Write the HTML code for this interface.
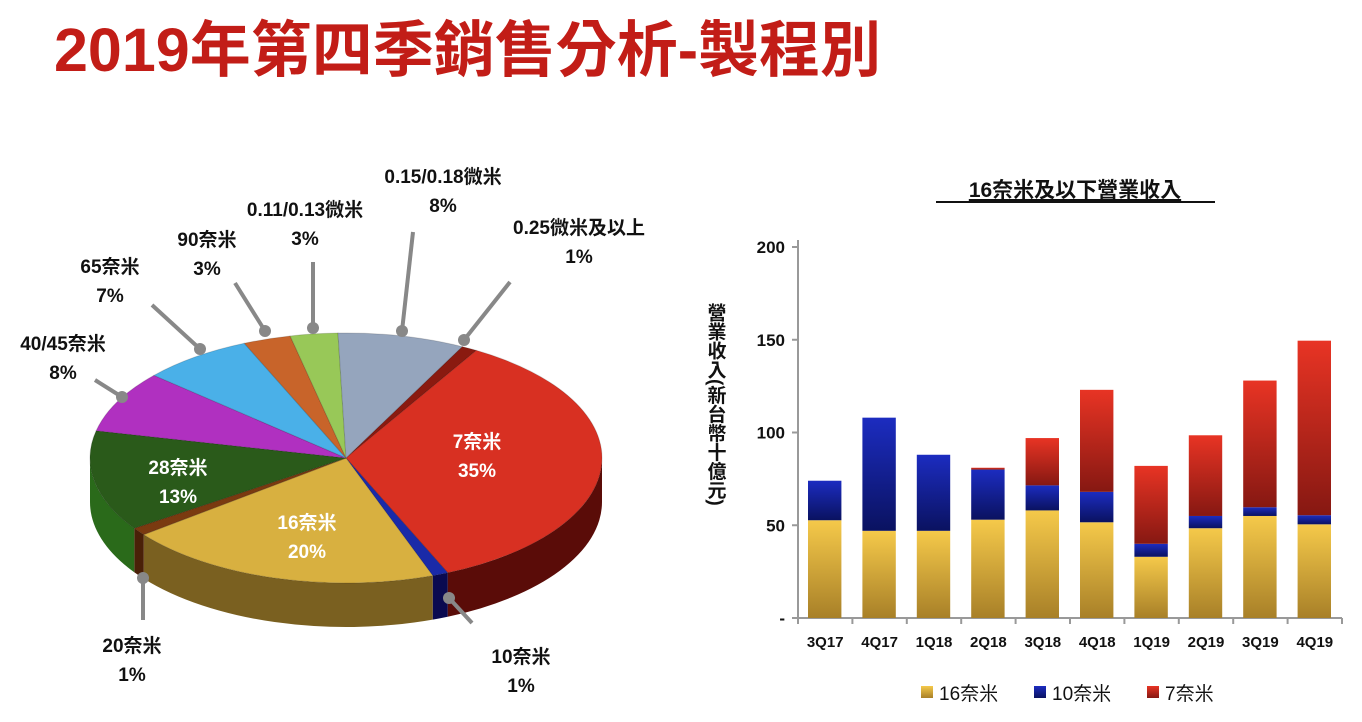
<!DOCTYPE html>
<html><head><meta charset="utf-8"><style>
body{margin:0;width:1362px;height:722px;background:#fff;overflow:hidden;font-family:"Liberation Sans","Noto Sans CJK TC",sans-serif;}
.t{position:absolute;font-weight:bold;white-space:nowrap;}
</style></head><body>
<div class="t" style="left:54px;top:0px;font-size:61px;color:#c21d17;letter-spacing:0px;">2019年第四季銷售分析-製程別</div>
<svg id="pie" width="1362" height="722" style="position:absolute;left:0;top:0"></svg>
<svg id="bar" width="1362" height="722" style="position:absolute;left:0;top:0"></svg>
<script>
const NS="http://www.w3.org/2000/svg";
function mk(p,t,a){const e=document.createElementNS(NS,t);for(const k in a)e.setAttribute(k,a[k]);p.appendChild(e);return e;}
// ---- PIE ----
const pieLabels=["0.25微米及以上","7奈米","10奈米","16奈米","20奈米","28奈米","40/45奈米","65奈米","90奈米","0.11/0.13微米","0.15/0.18微米"];
const pieValues=[1,35,1,20,1,13,8,7,3,3,8];
const pieColors=["#8a1a10","#d83022","#1a2aa8","#d8b040","#7a3a10","#2a5a1a","#b030c0","#4ab0e8","#c8642a","#98c858","#95a5bd"];
const pieSide=["#5a0e08","#5a0c08","#0a0a50","#7a6020","#4a2008","#2a6a1a","#6a1a70","#2a70a0","#7a3a10","#5a8030","#606878"];
const pie=document.getElementById('pie');
const cx=346,cy=458,rx=256,ry=125,dep=44;
function P(a,d){return [cx+rx*Math.cos(a),cy+ry*Math.sin(a)+(d||0)];}
const total=pieValues.reduce((a,b)=>a+b,0);
let ang=-63*Math.PI/180;const sl=[];
pieValues.forEach((v,i)=>{const a2=ang+v/total*2*Math.PI;sl.push([ang,a2]);ang=a2;});
// sides
sl.forEach(([a1,a2],i)=>{
  for(const off of [0,2*Math.PI]){
    let s=Math.max(a1-off,0),e=Math.min(a2-off,Math.PI);
    if(e<=s)continue;
    const p1=P(s),p2=P(e),p3=P(e,dep),p4=P(s,dep);
    const d=`M${p1} A${rx} ${ry} 0 0 1 ${p2} L${p3} A${rx} ${ry} 0 0 0 ${p4}Z`;
    const el=mk(pie,'path',{d:d,fill:pieSide[i]});
    
    
  }
});
sl.forEach(([a1,a2],i)=>{
  const p1=P(a1),p2=P(a2);const large=(a2-a1)>Math.PI?1:0;
  const el=mk(pie,'path',{d:`M${cx} ${cy} L${p1} A${rx} ${ry} 0 ${large} 1 ${p2}Z`,fill:pieColors[i],stroke:'rgba(0,0,0,0.15)','stroke-width':1});
  
  
});
const leaders=[[464,340,510,282],[402,331,413,232],[313,328,313,262],[265,331,235,283],[200,349,152,305],[122,397,95,380],[143,578,143,620],[449,598,472,623]];
leaders.forEach(l=>{
  const ln=mk(pie,'line',{x1:l[0],y1:l[1],x2:l[2],y2:l[3],stroke:'#888','stroke-width':4});
  
  const c=mk(pie,'circle',{cx:l[0],cy:l[1],r:6,fill:'#888'});
  
});
const outLabels=[[443,183,"0.15/0.18微米","8%"],[579,234,"0.25微米及以上","1%"],[305,216,"0.11/0.13微米","3%"],[207,246,"90奈米","3%"],[110,273,"65奈米","7%"],[63,350,"40/45奈米","8%"],[132,652,"20奈米","1%"],[521,663,"10奈米","1%"],
 [477,448,"7奈米","35%","#fff"],[178,474,"28奈米","13%","#fff"],[307,529,"16奈米","20%","#fff"]];
outLabels.forEach(o=>{
  [o[2],o[3]].forEach((s,j)=>{
    const t=mk(pie,'text',{x:o[0],y:o[1]+j*29,'text-anchor':'middle','font-size':19,'font-weight':'bold',fill:o[4]||'#111'});
    t.textContent=s;
  });
});
// ---- BAR ----
const categories=["3Q17","4Q17","1Q18","2Q18","3Q18","4Q18","1Q19","2Q19","3Q19","4Q19"];
const s16=[52.7,47,47,53,58,51.6,33,48.4,55,50.5];
const s10=[21.3,61,41,27,13.5,16.4,7,6.6,4.7,4.9];
const s7=[0,0,0,1,25.5,55,42,43.5,68.3,94.1];
const yTicks=[0,50,100,150,200];
const yTickLabels=["-","50","100","150","200"];
const bar=document.getElementById('bar');
const defs=mk(bar,'defs',{});
[["gY","#f5c94a","#a88028"],["gB","#1c2cc0","#0a1260"],["gR","#e83424","#861812"]].forEach(g=>{
  const lg=mk(defs,'linearGradient',{id:g[0],x1:0,y1:0,x2:0,y2:1});
  mk(lg,'stop',{offset:0,'stop-color':g[1]});mk(lg,'stop',{offset:1,'stop-color':g[2]});
});
const x0=798,bw=54.4,yb=618,ppu=1.855;
const Y=v=>yb-v*ppu, X=i=>x0+bw*i;
mk(bar,'line',{x1:x0,y1:240,x2:x0,y2:yb,stroke:'#999','stroke-width':2});
mk(bar,'line',{x1:x0,y1:yb,x2:x0+bw*10,y2:yb,stroke:'#999','stroke-width':2});
yTicks.forEach((v,i)=>{
  mk(bar,'line',{x1:x0-6,y1:Y(v),x2:x0,y2:Y(v),stroke:'#999','stroke-width':2});
  const t=mk(bar,'text',{x:785,y:Y(v)+6,'text-anchor':'end','font-size':17,'font-weight':'bold',fill:'#111'});
  t.textContent=yTickLabels[i];
});
categories.forEach((c,i)=>{
  mk(bar,'line',{x1:X(i),y1:yb,x2:X(i),y2:yb+6,stroke:'#999','stroke-width':2});
  const t=mk(bar,'text',{x:X(i)+bw/2,y:647,'text-anchor':'middle','font-size':15,'font-weight':'bold',fill:'#111'});
  t.textContent=c;
  let base=0;
  [[s16,'gY','bar-16nm'],[s10,'gB','bar-10nm'],[s7,'gR','bar-7nm']].forEach(s=>{
    const v=s[0][i];if(v<=0)return;
    const r=mk(bar,'rect',{x:X(i)+10,y:Y(base+v),width:bw-21,height:v*ppu,fill:'url(#'+s[1]+')'});
    
    base+=v;
  });
});
mk(bar,'line',{x1:X(10),y1:yb,x2:X(10),y2:yb+6,stroke:'#999','stroke-width':2});
const tt=mk(bar,'text',{x:1075,y:197,'text-anchor':'middle','font-size':21,'font-weight':'bold',fill:'#111','text-decoration':'underline'});
tt.textContent="16奈米及以下營業收入";
mk(bar,'line',{x1:936,y1:202,x2:1215,y2:202,stroke:'#111','stroke-width':2});
const yt=mk(bar,'text',{x:715,y:303,'font-size':19,'font-weight':'bold',fill:'#111','writing-mode':'tb',style:'writing-mode:vertical-rl;'});
yt.textContent="營業收入(新台幣十億元)";
[["16奈米","gY",921],["10奈米","gB",1034],["7奈米","gR",1147]].forEach(l=>{
  const r=mk(bar,'rect',{x:l[2],y:686,width:12,height:12,fill:'url(#'+l[1]+')'});
  
  const t=mk(bar,'text',{x:l[2]+18,y:700,'font-size':19,fill:'#111'});
  t.textContent=l[0];
});
</script>
</body></html>
